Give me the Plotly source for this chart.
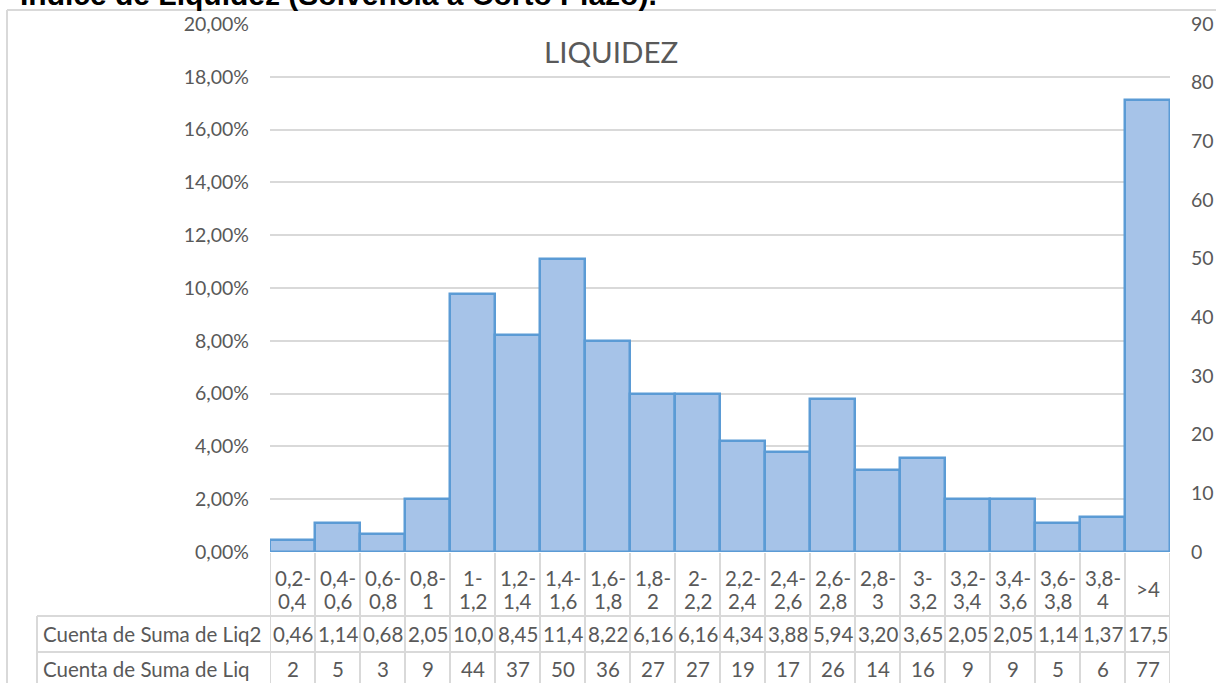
import plotly.graph_objects as go

categories = ["0,2-<br>0,4", "0,4-<br>0,6", "0,6-<br>0,8", "0,8-<br>1", "1-<br>1,2", "1,2-<br>1,4",
              "1,4-<br>1,6", "1,6-<br>1,8", "1,8-<br>2", "2-<br>2,2", "2,2-<br>2,4", "2,4-<br>2,6",
              "2,6-<br>2,8", "2,8-<br>3", "3-<br>3,2", "3,2-<br>3,4", "3,4-<br>3,6", "3,6-<br>3,8",
              "3,8-<br>4", ">4"]
liq2_labels = ["0,46", "1,14", "0,68", "2,05", "10,0", "8,45", "11,4", "8,22", "6,16", "6,16",
               "4,34", "3,88", "5,94", "3,20", "3,65", "2,05", "2,05", "1,14", "1,37", "17,5"]
liq_counts = [2, 5, 3, 9, 44, 37, 50, 36, 27, 27, 19, 17, 26, 14, 16, 9, 9, 5, 6, 77]
row_names = ["Cuenta de Suma de Liq2", "Cuenta de Suma de Liq"]
chart_title = "LIQUIDEZ"
top_text = "Índice de Liquidez (Solvencia a Corto Plazo)."

W, H = 1216, 683
L, R, T, B = 270, 1170, 24, 552
PH = B - T
PW = R - L


def py(p):
    return (B - p) / PH


def px(p):
    return (p - L) / PW


GRAY = "#595959"
LINE = "#D9D9D9"
FONT = "Lato"
TFS = 20.5
n = len(categories)
idx = list(range(n))

fig = go.Figure()
fig.add_trace(go.Bar(
    x=idx, y=liq_counts, yaxis="y2",
    marker=dict(color="#A6C3E8", line=dict(color="#5B9BD5", width=2.5)),
    width=1.0, showlegend=False, hoverinfo="skip",
))
fig.add_trace(go.Scatter(x=[0], y=[0], mode="markers", marker=dict(opacity=0),
                         showlegend=False, hoverinfo="skip"))

shapes = []
annotations = []

# outer chart border
shapes.append(dict(type="line", xref="paper", yref="paper", x0=px(7), x1=px(W + 5),
                   y0=py(10), y1=py(10), line=dict(color=LINE, width=2)))
shapes.append(dict(type="line", xref="paper", yref="paper", x0=px(7), x1=px(7),
                   y0=py(10), y1=py(H + 10), line=dict(color=LINE, width=2)))

# data table grid
for i in range(n + 1):
    shapes.append(dict(type="line", xref="x", yref="paper", x0=i - 0.5, x1=i - 0.5,
                       y0=py(553), y1=py(H + 10), line=dict(color=LINE, width=2)))
for yy in (616, 652):
    shapes.append(dict(type="line", xref="paper", yref="paper", x0=px(37), x1=1,
                       y0=py(yy), y1=py(yy), line=dict(color=LINE, width=2)))
shapes.append(dict(type="line", xref="paper", yref="paper", x0=px(37), x1=px(37),
                   y0=py(616), y1=py(H + 10), line=dict(color=LINE, width=2)))

tfont = dict(family=FONT, size=TFS, color=GRAY)
for i, c in enumerate(categories):
    parts = c.split("<br>")
    if len(parts) == 1:
        annotations.append(dict(x=i, y=py(589), xref="x", yref="paper", text=parts[0],
                                showarrow=False, font=tfont, yanchor="middle"))
    else:
        for part, yy in zip(parts, (578, 601)):
            annotations.append(dict(x=i, y=py(yy), xref="x", yref="paper", text=part,
                                    showarrow=False, font=tfont, yanchor="middle"))
for i, v in enumerate(liq2_labels):
    annotations.append(dict(x=i, y=py(634), xref="x", yref="paper", text=v, showarrow=False,
                            font=tfont, yanchor="middle"))
for i, v in enumerate(liq_counts):
    annotations.append(dict(x=i, y=py(669), xref="x", yref="paper", text=str(v), showarrow=False,
                            font=tfont, yanchor="middle"))
for name, yy in zip(row_names, (634, 669)):
    annotations.append(dict(x=px(41), y=py(yy), xref="paper", yref="paper", text=name,
                            showarrow=False, xanchor="left", yanchor="middle", font=tfont))

annotations.append(dict(x=px(611), y=py(52), xref="paper", yref="paper", text=chart_title,
                        showarrow=False, xanchor="center", yanchor="middle",
                        font=dict(family=FONT, size=29.5, color=GRAY)))
annotations.append(dict(x=px(18), y=py(13), xref="paper", yref="paper", text="<b>" + top_text + "</b>",
                        showarrow=False, xanchor="left", yanchor="bottom",
                        font=dict(family="Liberation Sans", size=30, color="#000000")))

fig.update_layout(
    width=W, height=H,
    margin=dict(l=L, r=W - R, t=T, b=H - B, pad=0, autoexpand=False),
    paper_bgcolor="white", plot_bgcolor="white",
    separators=",.",
    bargap=0,
    xaxis=dict(range=[-0.5, n - 0.5], showticklabels=False, showgrid=False, zeroline=False,
               showline=False, ticks="", automargin=False),
    yaxis=dict(range=[0, 0.2], dtick=0.02, tickformat=".2%", showgrid=True, gridcolor=LINE,
               gridwidth=2, zeroline=False, showline=False, ticks="", ticklabelstandoff=20,
               automargin=False, tickfont=dict(family=FONT, size=19.5, color=GRAY)),
    yaxis2=dict(range=[0, 90], dtick=10, overlaying="y", side="right", showgrid=False,
                zeroline=False, showline=False, ticks="", ticklabelstandoff=20,
                automargin=False, tickfont=dict(family=FONT, size=19.5, color=GRAY)),
    shapes=shapes, annotations=annotations,
)

fig.write_html("out.html", config={"displayModeBar": False},
               post_script="document.body.style.margin='0';")
